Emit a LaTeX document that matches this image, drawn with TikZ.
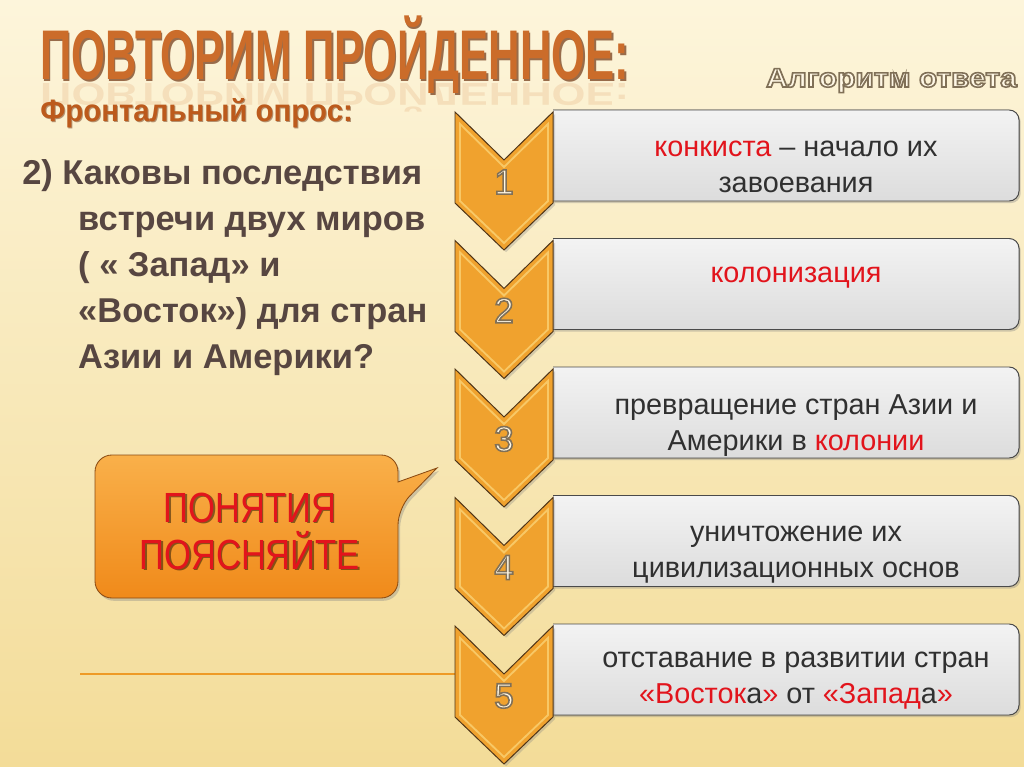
\documentclass[tikz,border=0pt]{standalone}
\usepackage{fontspec}
\setmainfont{Liberation Sans}
\usetikzlibrary{shadows}

\definecolor{bgtop}{HTML}{FDF5DB}
\definecolor{bgmid}{HTML}{FBEDC3}
\definecolor{bgbottom}{HTML}{F3DC98}
\definecolor{chevfill}{HTML}{F0A22E}
\definecolor{chevlight}{HTML}{FAD275}
\definecolor{chevedge}{HTML}{4E3418}
\definecolor{boxtop}{HTML}{F3F3F3}
\definecolor{boxbottom}{HTML}{DCDCDC}
\definecolor{boxedge}{HTML}{4A4A4A}
\definecolor{boxink}{HTML}{303030}
\definecolor{redword}{HTML}{E2141C}
\definecolor{titleorange}{HTML}{CB6C2A}
\definecolor{titleshade}{HTML}{6E3310}
\definecolor{quizorange}{HTML}{BC5A1C}
\definecolor{questionink}{HTML}{574641}
\definecolor{bubbletop}{HTML}{F9B04A}
\definecolor{bubblebottom}{HTML}{F08A1A}
\definecolor{bubbleedge}{HTML}{8A4A12}
\definecolor{digitfill}{HTML}{FFF8E6}
\definecolor{lineorange}{HTML}{EE9A25}

\newcommand{\chevronshape}[1]{(455,#1) -- (504,#1+48) -- (553,#1) -- (553,#1+91) -- (504,#1+138) -- (455,#1+91) -- cycle}
\newcommand{\chevronbevel}[1]{(460,#1+12) -- (504,#1+55) -- (548,#1+12) -- (548,#1+89) -- (504,#1+131) -- (460,#1+89) -- cycle}
\newcommand{\answerpath}[1]{(553,#1-2) -- (1019,#1-2) -- (1019,#1+89) -- (553,#1+89)}
% outlined letters: fill and stroke of the glyphs
\newcommand{\outlined}[1]{\special{pdf:literal direct q 2 Tr 1.1 w 0.50 0.44 0.34 RG}#1\special{pdf:literal direct Q}}

\begin{document}
\begin{tikzpicture}[x=0.025cm,y=-0.025cm,
	answer box/.style={draw=boxedge,line width=.7pt,top color=boxtop,bottom color=boxbottom,rounded corners=7pt,
		drop shadow={opacity=.35,shadow xshift=1.2pt,shadow yshift=-1.5pt}},
	chevron/.style={draw=chevedge,line width=.7pt,fill=chevfill,
		drop shadow={opacity=.3,shadow xshift=1.5pt,shadow yshift=-1.5pt}},
	bevel/.style={draw=chevlight,line width=1.3pt,opacity=.8},
	digit/.style={font=\fontsize{25}{25}\selectfont,text=digitfill,inner sep=0pt},
	boxtext/.style={align=center,font=\fontsize{20.5}{25.6}\selectfont,text=boxink,inner sep=0pt},
	titletext/.style={anchor=base west,inner sep=0pt,xscale=.62,font=\fontsize{50}{50}\selectfont\bfseries,text=titleorange},
	quiztext/.style={anchor=base west,inner sep=0pt,xscale=.95,font=\fontsize{22}{22}\selectfont\bfseries,text=quizorange},
	question/.style={anchor=north west,inner sep=0pt,align=left,font=\fontsize{24.5}{32.7}\selectfont\bfseries,text=questionink},
	algotext/.style={anchor=base east,inner sep=0pt,xscale=1.12,font=\fontsize{19}{19}\selectfont\bfseries,text=digitfill},
	bubble/.style={draw=bubbleedge,line width=.6pt,top color=bubbletop,bottom color=bubblebottom,rounded corners=12pt,
		drop shadow={opacity=.35,shadow xshift=1.5pt,shadow yshift=-2pt}},
	bubbletext/.style={align=center,inner sep=0pt,xscale=.82,font=\fontsize{30}{33.4}\selectfont,text=redword}]

	% background of the slide
	\useasboundingbox (0,0) rectangle (1024,767);
	\shade[top color=bgtop,middle color=bgmid,bottom color=bgbottom] (0,0) rectangle (1024,767);
	\draw[lineorange,line width=1.2pt] (80,674) -- (455,674);

	% headings
	\node[titletext,yscale=-.45,opacity=.14] (title-mirror) at (40,84) {ПОВТОРИМ ПРОЙДЕННОЕ:};
	\node[titletext,text=titleshade,opacity=.7] (title-shadow) at (41.5,81.5) {ПОВТОРИМ ПРОЙДЕННОЕ:};
	\node[titletext] (title) at (40,80) {ПОВТОРИМ ПРОЙДЕННОЕ:};

	\node[quiztext,text=titleshade,opacity=.5] (quiz-shadow) at (41,123) {Фронтальный опрос:};
	\node[quiztext] (quiz) at (40,122) {Фронтальный опрос:};

	\node[algotext] (algorithm) at (1017,87) {\outlined{Алгоритм ответа}};

	% the question
	\node[question] (question) at (22,159) {2) Каковы последствия\\\hspace*{39.8pt}встречи двух миров\\\hspace*{39.8pt}( « Запад» и\\\hspace*{39.8pt}«Восток») для стран\\\hspace*{39.8pt}Азии и Америки?};

	% speech bubble
	\draw[bubble] (398,482) -- (398,455) -- (95,455) -- (95,598) -- (398,598) -- (398,508) [sharp corners] -- (437,468) -- cycle;
	\node[bubbletext,text=black,opacity=.45] (concepts-shadow) at (251.5,532.5) {ПОНЯТИЯ\\ПОЯСНЯЙТЕ};
	\node[bubbletext] (concepts) at (250,531) {ПОНЯТИЯ\\ПОЯСНЯЙТЕ};

	% steps of the answer
	\foreach \i/\ty in {1/112,2/240.5,3/369,4/497.5,5/626}{
		\filldraw[answer box] \answerpath{\ty};
		\filldraw[chevron] \chevronshape{\ty};
		\draw[bevel] \chevronbevel{\ty};
		\node[digit] (d\i) at (504,\ty+70) {\outlined{\i}};
	}

	\node[boxtext] (a1) at (796,167) {\textcolor{redword}{конкиста} – начало их\\завоевания};
	\node[boxtext] (a2) at (796,278) {\textcolor{redword}{колонизация}};
	\node[boxtext] (a3) at (796,426) {превращение стран Азии и\\Америки в \textcolor{redword}{колонии}};
	\node[boxtext] (a4) at (796,555) {уничтожение их\\цивилизационных основ};
	\node[boxtext] (a5) at (796,681) {отставание в развитии стран\\\textcolor{redword}{«Восток}а\textcolor{redword}{»} от \textcolor{redword}{«Запад}а\textcolor{redword}{»}};
\end{tikzpicture}
\end{document}
